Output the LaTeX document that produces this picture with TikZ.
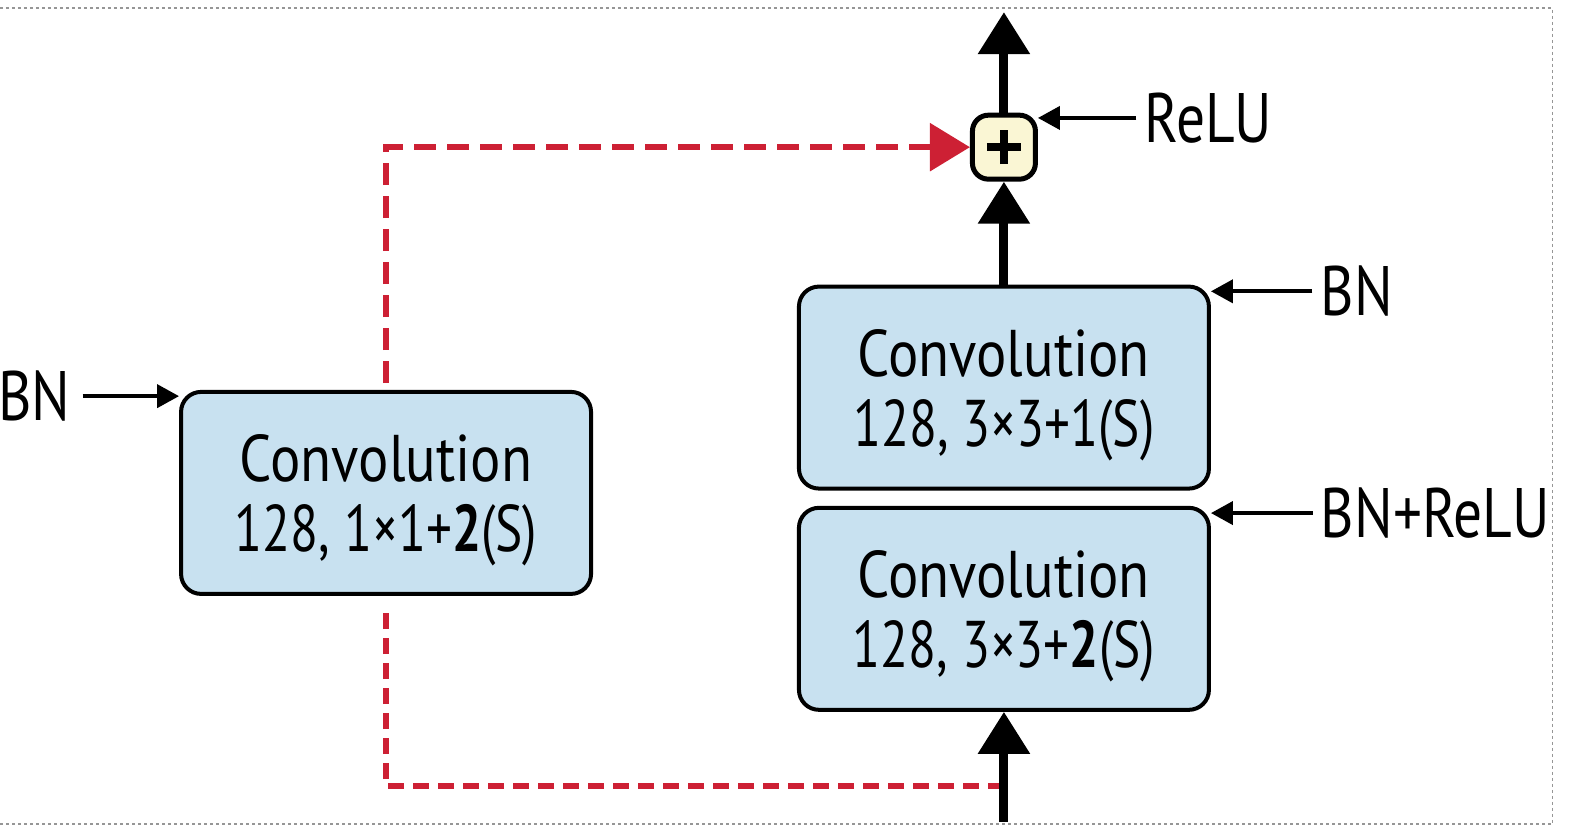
\documentclass[tikz,border=0pt]{standalone}
\usepackage{fontspec}
\usepackage{graphicx}
\setmainfont[FakeStretch=0.82]{PT Sans}
\newfontfamily\boxfont[FakeStretch=0.86]{PT Sans}
\usetikzlibrary{arrows.meta}
\definecolor{boxblue}{RGB}{200,225,240}
\definecolor{plusyellow}{RGB}{250,246,212}
\definecolor{skipred}{RGB}{205,32,52}
\definecolor{framegray}{RGB}{150,150,150}
\newcommand{\secondline}[1]{\scalebox{0.905}[1]{#1}}
\begin{document}
\begin{tikzpicture}[x=0.504pt,y=-0.504pt,
  convbox/.style={draw=black, line width=2pt, rounded corners=10pt, fill=boxblue,
    minimum width=205pt, minimum height=101pt, align=center, inner sep=0pt,
    text depth=0pt, font=\boxfont\fontsize{33}{35}\selectfont},
  plusbox/.style={draw=black, line width=2.5pt, rounded corners=8pt, fill=plusyellow,
    minimum width=31.5pt, minimum height=32pt, inner sep=0pt},
  lbl/.style={inner sep=0pt, font=\fontsize{35}{36}\selectfont},
  thickarr/.style={line width=4.5pt, -{Triangle[width=25pt,length=21pt]}},
  thinarr/.style={line width=2pt, -{Triangle[width=11.5pt,length=11pt]}},
  skiptop/.style={draw=skipred, line width=3pt, dash pattern=on 11pt off 5.5pt,
    -{Triangle[width=23.5pt,length=20pt]}},
  skipbot/.style={draw=skipred, line width=3pt, dash pattern=on 8pt off 4.5pt},
  framel/.style={draw=framegray, line width=0.6pt, dash pattern=on 1.5pt off 1.5pt}
]
\useasboundingbox (0,0) rectangle (1568.5,820.4);
\draw[framel] (0,8) -- (1540,8) -- (1540,817.5) -- (0,817.5);

\node[convbox] (conv1) at (383,489) {Convolution\\\secondline{128, 1×1+\textbf{2}(S)}};
\node[convbox] (conv3) at (996,384.5) {Convolution\\\secondline{128, 3×3+1(S)}};
\node[convbox] (conv2) at (996,604) {Convolution\\\secondline{128, 3×3+\textbf{2}(S)}};
\node[plusbox] (plus) at (996,146) {};
\draw[line width=4pt] ([xshift=-8.5pt]plus.center) -- ([xshift=8.5pt]plus.center)
  ([yshift=-8.5pt]plus.center) -- ([yshift=8.5pt]plus.center);

\node[lbl] (bnl) at (34,393) {BN};
\node[lbl] (bnr) at (1346,289) {BN};
\node[lbl] (relu) at (1199,117) {ReLU};
\node[lbl] (bnrelu) at (1424,509) {BN+ReLU};

\coordinate (in) at (996,815);
\coordinate (out) at (996,12);
\coordinate (c1top) at (383,380);
\coordinate (c1bot) at (383,605);
\coordinate (junc) at (996,780);

\draw[skipbot] (junc) -| (c1bot);
\draw[skiptop] (c1top) |- (plus.west);

\draw[thickarr] (in) -- (conv2.south);
\draw[thickarr] (conv3.north) -- (plus.south);
\draw[thickarr] (plus.north) -- (out);

\draw[thinarr] ([xshift=6pt]bnl.east) -- (bnl.east -| conv1.west);
\draw[thinarr] ([xshift=-4pt]bnr.west) -- (bnr.west -| conv3.east);
\draw[thinarr] ([xshift=-4pt]bnrelu.west) -- (bnrelu.west -| conv2.east);
\draw[thinarr] ([xshift=-4pt]relu.west) -- (relu.west -| plus.east);
\end{tikzpicture}
\end{document}
